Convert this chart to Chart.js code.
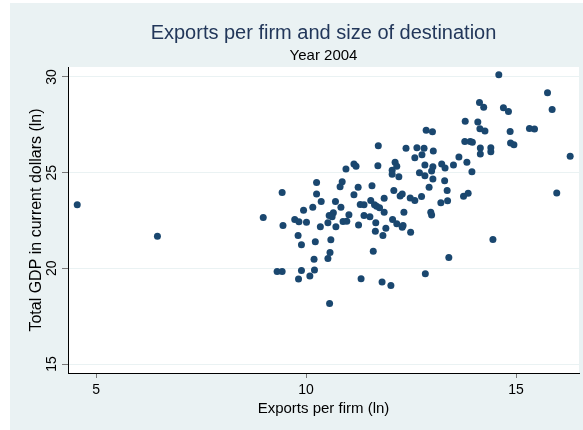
<!DOCTYPE html>
<html>
<head>
<meta charset="utf-8">
<title>Exports per firm and size of destination</title>
<script src="https://cdn.jsdelivr.net/npm/chart.js@4.4.1/dist/chart.umd.min.js"></script>
<style>
  html, body { margin: 0; padding: 0; background: #fff; }
</style>
</head>
<body>
<canvas id="myChart" width="583" height="430"></canvas>
<script>
// log exports per firm vs log GDP of destination, one dot per country
var exportsLn = [4.55, 6.46, 11.72, 10.95, 11.14, 11.19, 11.71, 10.25, 10.86, 10.81, 11.24, 11.57, 12.12, 12.16, 12.05, 12.05, 12.21, 12.38, 12.64, 12.81, 12.59, 12.76, 12.86, 13.01, 13.03, 12.83, 13.02, 12.99, 12.70, 12.83, 13.02, 12.93,
    14.59, 15.75, 15.86, 14.13, 14.23, 14.70, 14.82, 13.79, 14.09, 14.14, 14.26, 14.86, 15.32, 15.44, 13.78, 13.91, 13.96, 14.87, 14.95, 14.15, 14.15, 14.40, 14.40, 16.29, 13.64, 13.83, 13.51, 13.23, 13.31, 13.95, 13.30, 13.36, 15.97, 13.75, 13.86, 13.21, 13.37,
    9.43, 10.25, 11.14, 10.36, 10.70, 10.83, 9.94, 10.16, 11.29, 11.38, 11.54, 11.63, 11.68, 11.75, 11.86, 12.09, 12.24, 12.29, 12.48, 12.59, 12.75,
    8.98, 9.45, 9.73, 9.83, 10.01, 10.34, 10.52, 10.55, 10.65, 10.62, 10.71, 10.88, 10.97, 11.02, 11.25, 11.38, 11.52, 11.66, 11.86, 12.33, 12.06, 12.16, 12.29, 12.31, 11.90, 11.65, 11.83, 12.49, 12.97, 12.99,
    9.81, 9.89, 10.22, 10.59, 10.57, 10.52, 10.19, 11.60, 9.31, 9.43, 9.89, 10.20, 9.82, 10.09, 11.31, 11.81, 12.02, 12.84, 10.56, 13.40, 14.45]

var gdpLn = [23.32, 21.68, 26.41, 25.19, 25.45, 25.33, 25.36, 24.48, 24.53, 24.26, 24.23, 24.32, 25.54, 25.33, 25.12, 24.91, 24.79, 26.27, 26.30, 26.27, 25.78, 25.94, 27.22, 27.14, 26.13, 25.40, 25.31, 25.08, 25.00, 24.84, 24.67, 24.24,
    30.12, 29.18, 28.30, 28.66, 28.42, 28.39, 28.19, 27.69, 27.64, 27.29, 27.17, 27.15, 27.31, 27.28, 26.63, 26.63, 26.59, 26.55, 26.46, 26.29, 25.97, 26.30, 26.09, 25.85, 25.82, 25.54, 25.40, 25.45, 25.24, 25.04, 24.57, 24.06, 23.94, 23.77, 23.92, 23.42, 23.53,
    23.96, 23.89, 23.84, 23.49, 23.49, 23.19, 23.04, 23.19, 23.33, 23.32, 23.54, 23.32, 23.24, 23.16, 23.66, 24.06, 23.78, 23.88, 23.68, 23.54, 23.75,
    22.66, 22.24, 22.55, 22.43, 22.41, 22.17, 22.38, 22.76, 22.90, 22.69, 22.17, 22.45, 22.46, 22.80, 22.26, 22.76, 22.69, 22.38, 22.93, 22.93, 22.55, 22.33, 22.14, 22.24, 22.10, 21.94, 21.72, 21.89, 22.93, 22.78,
    21.72, 21.23, 21.39, 21.49, 20.83, 20.51, 20.48, 20.89, 19.84, 19.84, 19.88, 19.91, 19.44, 19.60, 19.46, 19.29, 19.10, 19.72, 18.16, 20.56, 21.51]

var xTicks = [5, 10, 15]
var yTicks = [15, 20, 25, 30]

var chartTitle = "Exports per firm and size of destination"
var chartSubtitle = "Year 2004"
var xTitle = "Exports per firm (ln)"
var yTitle = "Total GDP in current dollars (ln)"

var points = []
for (var i = 0; i < exportsLn.length; i++) {
    points.push({ x: exportsLn[i], y: gdpLn[i] })
}

var family = "'Liberation Sans', Arial, sans-serif"

// bluish gray backdrop with a white plot region, titles and rotated y labels
var backdrop = {
    id: 'backdrop',
    beforeDraw: function(chart) {
        var ctx = chart.ctx, a = chart.chartArea
        ctx.save()
        ctx.fillStyle = '#eaf2f3'
        ctx.fillRect(10, 3, chart.width - 10, chart.height - 3)
        ctx.fillStyle = '#ffffff'
        ctx.fillRect(a.left, a.top, a.right - a.left, a.bottom - a.top)
        ctx.restore()
    },
    afterDraw: function(chart) {
        var ctx = chart.ctx, a = chart.chartArea
        var cx = (a.left + a.right) / 2
        var yScale = chart.scales.y
        ctx.save()
        ctx.textAlign = 'center'
        ctx.textBaseline = 'alphabetic'
        ctx.fillStyle = '#22375a'
        ctx.font = '20px ' + family
        ctx.fillText(chartTitle, cx, 39)
        ctx.fillStyle = '#000'
        ctx.font = '15px ' + family
        ctx.fillText(chartSubtitle, cx, 60)

        ctx.font = '14px ' + family
        ctx.textBaseline = 'middle'
        yTicks.forEach(function(v) {
            ctx.save()
            ctx.translate(52, yScale.getPixelForValue(v))
            ctx.rotate(-Math.PI / 2)
            ctx.fillText(String(v), 0, 0)
            ctx.restore()
        })
        ctx.restore()
    }
}

var myChart = document.getElementById("myChart").getContext('2d')

var chart = new Chart(myChart, {
    type: 'scatter',
    data: {
        datasets: [{
            data: points,
            backgroundColor: '#1a476f',
            borderColor: '#1a476f',
            borderWidth: 0,
            pointRadius: 3.5,
            pointHoverRadius: 3.5
        }]
    },
    options: {
        responsive: false,
        animation: false,
        layout: { padding: { left: 10, right: 4, top: 67, bottom: 0 } },
        plugins: {
            legend: { display: false },
            tooltip: { enabled: false }
        },
        scales: {
            x: {
                type: 'linear',
                min: 4.33,
                max: 16.5,
                afterBuildTicks: function(s) {
                    s.ticks = xTicks.map(function(v) { return { value: v } })
                },
                afterFit: function(s) { s.height = 57 },
                grid: { drawOnChartArea: false, drawTicks: true, tickLength: 5, tickColor: '#777' },
                border: { display: true, color: '#000', width: 1 },
                ticks: { color: '#000', font: { family: family, size: 14 }, padding: 4, maxRotation: 0 },
                title: {
                    display: true, text: xTitle, color: '#000',
                    font: { family: family, size: 15 },
                    padding: { top: 0, bottom: 12 }
                }
            },
            y: {
                type: 'linear',
                min: 14.53,
                max: 30.52,
                afterBuildTicks: function(s) {
                    s.ticks = yTicks.map(function(v) { return { value: v } })
                },
                afterFit: function(s) { s.width = 58 },
                grid: { color: '#eaf2f3', lineWidth: 1, drawTicks: true, tickLength: 6, tickColor: '#777' },
                border: { display: true, color: '#000', width: 1 },
                ticks: { display: false },
                title: {
                    display: true, text: yTitle, color: '#000',
                    font: { family: family, size: 16 },
                    padding: { top: 17, bottom: 0 }
                }
            }
        }
    },
    plugins: [backdrop]
})
</script>
</body>
</html>
